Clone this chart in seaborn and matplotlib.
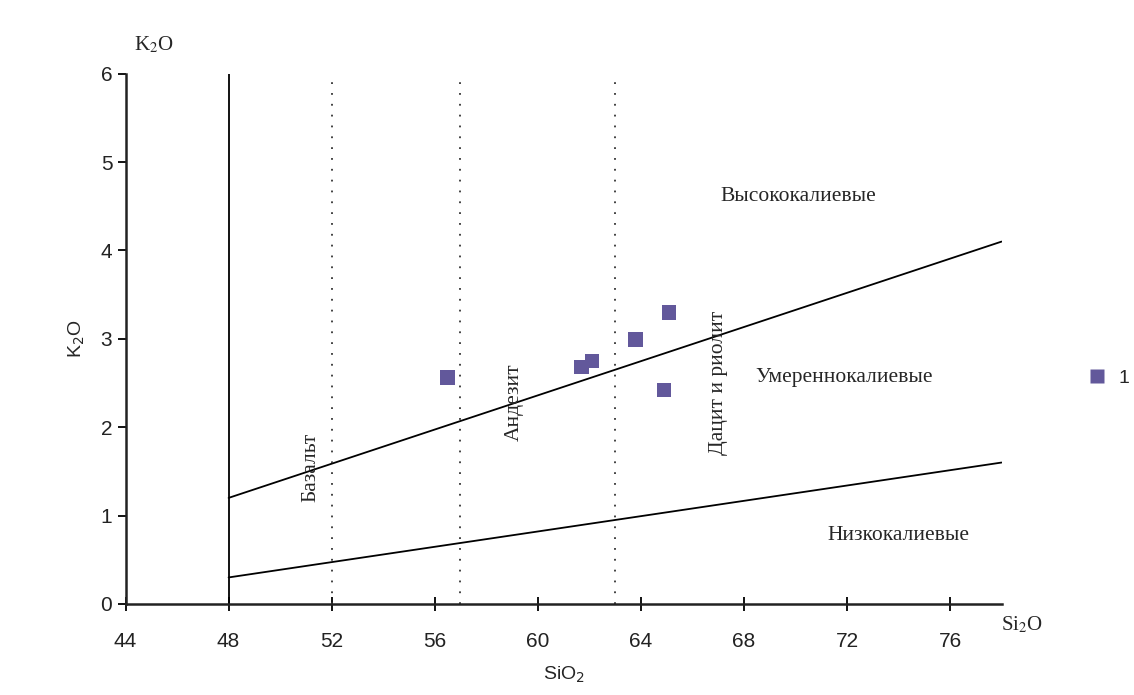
import numpy as np
import pandas as pd
import matplotlib
matplotlib.use("Agg")
import matplotlib.pyplot as plt
import seaborn as sns

# точки образцов (SiO2, K2O)
sio2 = [56.5, 61.7, 62.1, 63.8, 65.1, 64.9]
k2o = [2.56, 2.68, 2.75, 2.99, 3.30, 2.42]

# границы серий
high_x = [48, 78]
high_y = [1.2, 4.1]
low_x = [48, 78]
low_y = [0.3, 1.6]
rock_bounds = [52, 57, 63]

xticks = [44, 48, 52, 56, 60, 64, 68, 72, 76]
yticks = [0, 1, 2, 3, 4, 5, 6]

sns.set_theme(style="ticks")
plt.rcParams['font.family'] = ['Liberation Sans', 'DejaVu Sans']

fig = plt.figure(figsize=(11.34, 6.95), dpi=100)
ax = fig.add_axes([0.1107, 0.131, 0.7725, 0.763])

df = pd.DataFrame({"SiO2": sio2, "K2O": k2o, "g": ["1"] * len(sio2)})
sns.scatterplot(data=df, x="SiO2", y="K2O", hue="g", palette=["#62589b"],
                marker="s", s=110, edgecolor="none", ax=ax, zorder=3)

sns.lineplot(x=high_x, y=high_y, color="black", lw=1.3, ax=ax, legend=False)
sns.lineplot(x=low_x, y=low_y, color="black", lw=1.3, ax=ax, legend=False)
ax.vlines(48, 0, 6, color="black", lw=1.3)
for b in rock_bounds:
    ax.vlines(b, 0, 5.93, color="#333333", lw=1.3, linestyles=(0, (1, 5)))

ax.set_xlim(44, 78)
ax.set_ylim(0, 6)
ax.set_xticks(xticks)
ax.set_yticks(yticks)
ax.tick_params(axis="both", labelsize=15, length=6, width=1.3, color="black",
               labelcolor="#222222", direction="out")
ax.tick_params(axis="x", direction="inout", length=10, pad=15)
for s in ["top", "right"]:
    ax.spines[s].set_visible(False)
for s in ["left", "bottom"]:
    ax.spines[s].set_linewidth(1.8)
    ax.spines[s].set_color("#222222")

ax.set_xlabel("SiO$_2$", fontsize=14, labelpad=10)
ax.set_ylabel("K$_2$O", fontsize=14, labelpad=10)

serif = ['Liberation Serif', 'DejaVu Serif']
fs = 15.5
ax.text(70.1, 4.61, "Высококалиевые", family=serif, fontsize=fs, ha="center", va="center")
ax.text(71.9, 2.56, "Умеренноколиевые".replace("коли", "кали"), family=serif, fontsize=fs,
        ha="center", va="center")
ax.text(74.0, 0.78, "Низкокалиевые", family=serif, fontsize=fs, ha="center", va="center")
ax.text(51.2, 1.54, "Базальт", family=serif, fontsize=fs, rotation=90, ha="center", va="center")
ax.text(59.1, 2.28, "Андезит", family=serif, fontsize=fs, rotation=90, ha="center", va="center")
ax.text(67.0, 2.50, "Дацит и риолит", family=serif, fontsize=fs, rotation=90,
        ha="center", va="center")

fig.text(134 / 1134, 1 - 45 / 695, "K$_2$O", family=serif, fontsize=15, va="center",
         math_fontfamily="stix")
fig.text(1001 / 1134, 1 - 625 / 695, "Si$_2$O", family=serif, fontsize=15, va="center",
         math_fontfamily="stix")

ax.legend(loc="center left", bbox_to_anchor=(1.067, 0.426), frameon=False,
          fontsize=14, handletextpad=0.1, markerscale=0.9)

fig.savefig("out.png", dpi=100, facecolor="white")
